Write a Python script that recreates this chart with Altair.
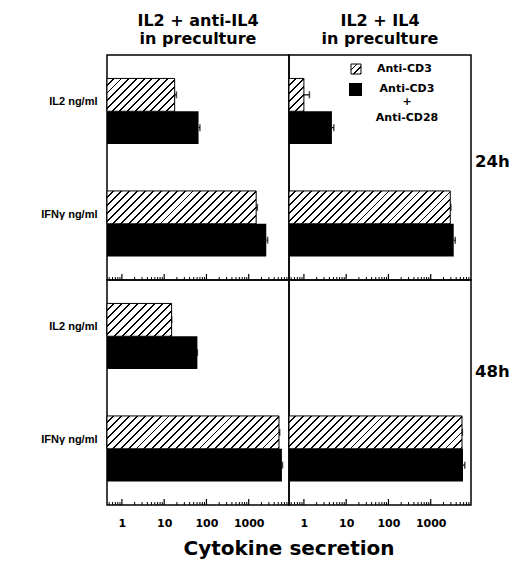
import math
import altair as alt
import pandas as pd

# ---------------- data ----------------
cytokines = ["IL2 ng/ml", "IFNγ ng/ml"]
stimuli = ["Anti-CD3", "Anti-CD3 + Anti-CD28"]
row_cytokine = ["IL2 ng/ml", "IL2 ng/ml", "IFNγ ng/ml", "IFNγ ng/ml"]
row_stimulus = ["Anti-CD3", "Anti-CD3 + Anti-CD28", "Anti-CD3", "Anti-CD3 + Anti-CD28"]

# values (ng/ml) and upper end of error bars, per panel
val_24h_antiIL4 = [17.7, 65, 1500, 2600]
err_24h_antiIL4 = [19.5, 70, 1600, 2800]
val_24h_IL4 = [1.0, 4.6, 2900, 3500]
err_24h_IL4 = [1.35, 5.1, 3000, 3800]
val_48h_antiIL4 = [15, 61, 5200, 6100]
err_48h_antiIL4 = [15, 61, 5400, 6300]
val_48h_IL4 = [None, None, 5500, 5800]
err_48h_IL4 = [None, None, 5600, 6400]

major_ticks = [1, 10, 100, 1000]
minor_ticks = [0.5, 0.6, 0.7, 0.8, 0.9, 2, 3, 4, 5, 6, 7, 8, 9,
               20, 30, 40, 50, 60, 70, 80, 90, 200, 300, 400, 500, 600, 700, 800, 900,
               2000, 3000, 4000, 5000, 6000, 7000, 8000]

col_titles = [["IL2 + anti-IL4", "in preculture"], ["IL2 + IL4", "in preculture"]]
row_titles = ["24h", "48h"]
x_title = "Cytokine secretion"

# ---------------- layout / style ----------------
DMIN, DMAX = 0.444, 8970
PW, PH = 182, 225
PAD_OUT = 0.715
SUB = (PH / 2) / (2 + 2 * PAD_OUT)
FONT = "DejaVu Sans"
LFONT = "Liberation Sans"

xscale = alt.Scale(type="log", domain=[DMIN, DMAX], nice=False)
yscale = alt.Scale(domain=cytokines, paddingInner=0, paddingOuter=0)
yoff_scale = alt.Scale(domain=stimuli, paddingInner=0, paddingOuter=PAD_OUT)


def hatch(w, h, period=7.8, frac=0.24):
    r = h / w
    s = (1 + r) / (1 + r * r)
    n = max(1, round((w + h) / period))
    stops = []
    for i in range(n):
        a = i / n
        b = (i + 1 - frac) / n
        c = (i + 1) / n
        stops += [(a, "white"), (b, "white"), (b, "black"), (c, "black")]
    return alt.Gradient(gradient="linear", x1=0, y1=0, x2=s, y2=s * r,
                        stops=[alt.GradientStop(offset=o, color=col) for o, col in stops])


def px_width(v):
    return PW * (math.log10(v) - math.log10(DMIN)) / (math.log10(DMAX) - math.log10(DMIN))


def panel(values, errs, left, bottom, title=None, legend=False, row_label=None, xlabel=False):
    df = pd.DataFrame({"cyt": row_cytokine, "stim": row_stimulus, "v": values, "e": errs}).dropna()
    df["base"] = DMIN
    if bottom:
        xaxis = alt.Axis(values=major_ticks, format="d", ticks=False, domain=False, grid=False,
                         labelFont=FONT, labelFontSize=11, labelFontWeight="bold",
                         labelColor="black", labelPadding=12, title=None)
    else:
        xaxis = None
    if left:
        yaxis = alt.Axis(ticks=False, domain=False, grid=False, labelFont=LFONT,
                         labelFontSize=11, labelFontWeight="bold", labelColor="black",
                         labelPadding=10, labelOffset=-9, title=None)
    else:
        yaxis = None
    x = alt.X("v:Q", scale=xscale, axis=xaxis, title=None)
    y = alt.Y("cyt:N", scale=yscale, axis=yaxis, title=None)
    yo = alt.YOffset("stim:N", scale=yoff_scale)
    base = alt.Chart(df)
    layers = [base.transform_filter(alt.datum.stim == stimuli[1])
              .mark_bar(color="black").encode(x=x, x2="base", y=y, yOffset=yo)]
    for _, row in df[df.stim == stimuli[0]].iterrows():
        layers.append(
            base.transform_filter((alt.datum.stim == stimuli[0]) & (alt.datum.cyt == row.cyt))
            .mark_bar(fill=hatch(px_width(row.v), SUB), stroke="black", strokeWidth=1)
            .encode(x=x, x2="base", y=y, yOffset=yo))
    layers.append(base.mark_rule(color="black", strokeWidth=1.2)
                  .encode(x=x, x2="e", y=y, yOffset=yo))
    layers.append(base.mark_tick(color="black", thickness=1.5, size=7)
                  .encode(x=alt.X("e:Q", scale=xscale, axis=xaxis, title=None), y=y, yOffset=yo))
    # inward log ticks along the bottom of each panel
    layers.append(alt.Chart(pd.DataFrame({"t": major_ticks})).mark_rule(color="black", strokeWidth=1.2)
                  .encode(x=alt.X("t:Q", scale=xscale, axis=xaxis, title=None),
                          y=alt.value(PH), y2=alt.value(PH - 6)))
    layers.append(alt.Chart(pd.DataFrame({"t": minor_ticks})).mark_rule(color="black", strokeWidth=1)
                  .encode(x=alt.X("t:Q", scale=xscale, axis=xaxis, title=None),
                          y=alt.value(PH), y2=alt.value(PH - 3)))
    if legend:
        one = pd.DataFrame({"a": [0]})
        layers.append(alt.Chart(one).mark_rect(fill=hatch(10, 10, period=7), stroke="black", strokeWidth=1)
                      .encode(x=alt.value(62), x2=alt.value(72), y=alt.value(9), y2=alt.value(19)))
        layers.append(alt.Chart(one).mark_rect(color="black")
                      .encode(x=alt.value(60), x2=alt.value(73), y=alt.value(28), y2=alt.value(41)))
        lt = pd.DataFrame({"t": [stimuli[0]]})
        layers.append(alt.Chart(lt).mark_text(align="left", baseline="middle", font=FONT,
                                               fontSize=11, fontWeight="bold", color="black")
                      .encode(x=alt.value(88), y=alt.value(14), text="t:N"))
        lt2 = pd.DataFrame({"t": ["Anti-CD3", "+", "Anti-CD28"], "yy": [34, 47, 63]})
        for i in range(3):
            layers.append(alt.Chart(lt2.iloc[[i]]).mark_text(align="center", baseline="middle", font=FONT,
                                                             fontSize=11, fontWeight="bold", color="black")
                          .encode(x=alt.value(118), y=alt.value(float(lt2.yy.iloc[i])), text="t:N"))
    if row_label is not None:
        rl = pd.DataFrame({"t": [row_label[0]]})
        layers.append(alt.Chart(rl).mark_text(align="left", baseline="middle", font=FONT,
                                              fontSize=16.5, fontWeight="bold", color="black")
                      .encode(x=alt.value(PW + 4), y=alt.value(row_label[1]), text="t:N"))
    if xlabel:
        xl = pd.DataFrame({"t": [x_title]})
        layers.append(alt.Chart(xl).mark_text(align="center", baseline="middle", font=FONT,
                                              fontSize=20, fontWeight="bold", color="black")
                      .encode(x=alt.value(0), y=alt.value(PH + 44), text="t:N"))
    props = dict(width=PW, height=PH)
    if title is not None:
        props["title"] = alt.TitleParams(title, font=FONT, fontSize=16, fontWeight="bold",
                                         color="black", lineHeight=18, offset=8, anchor="middle")
    return alt.layer(*layers).properties(**props)


tl = panel(val_24h_antiIL4, err_24h_antiIL4, True, False, title=col_titles[0])
tr = panel(val_24h_IL4, err_24h_IL4, False, False, title=col_titles[1], legend=True,
           row_label=(row_titles[0], 107))
bl = panel(val_48h_antiIL4, err_48h_antiIL4, True, True)
br = panel(val_48h_IL4, err_48h_IL4, False, True, row_label=(row_titles[1], 92), xlabel=True)

chart = alt.concat(tl, tr, bl, br, columns=2, spacing=0, bounds="flush").configure_view(
    stroke="black", strokeWidth=1.5
).properties(padding={"left": 32, "top": 4, "right": 0, "bottom": 4}, background="white")

chart.save("out.html", embed_options={"renderer": "svg", "actions": False})
